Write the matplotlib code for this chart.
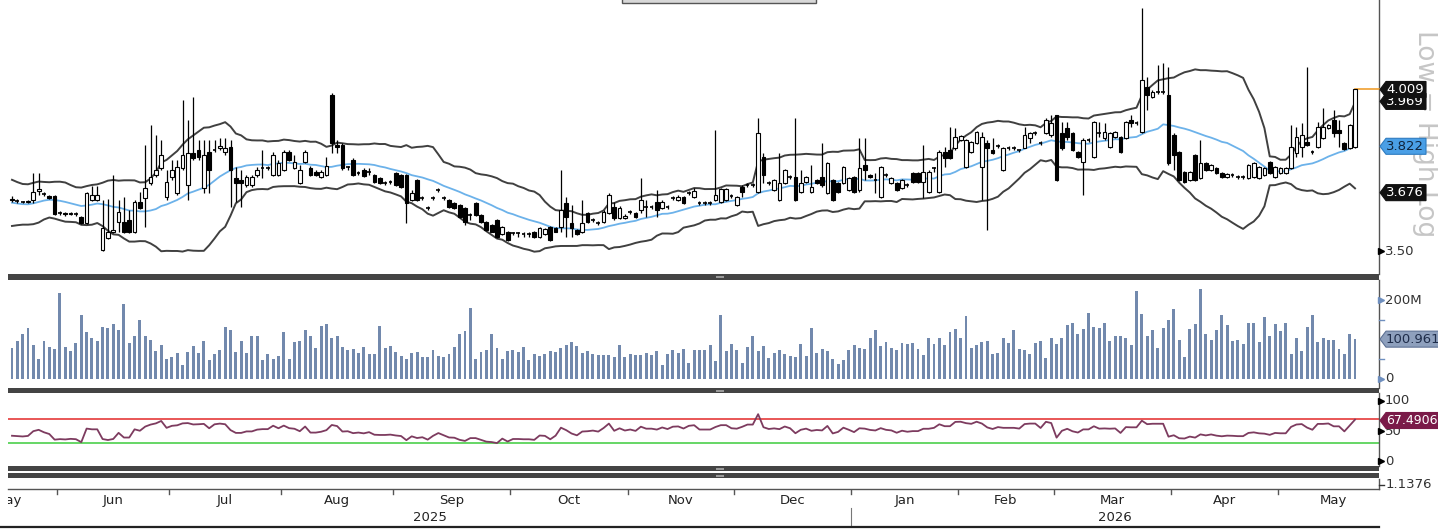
import numpy as np
import pandas as pd
import matplotlib
matplotlib.use("Agg")
import matplotlib.pyplot as plt
from matplotlib.patches import Polygon, Rectangle
from matplotlib.lines import Line2D
import matplotlib.transforms as mtransforms

# ---------------- data ----------------
open_ = [
    3.657,3.651,3.648,3.648,3.654,3.682,3.672,3.666,3.666,3.614,
    3.614,3.611,3.611,3.602,3.584,3.654,3.654,3.504,3.540,3.555,
    3.587,3.587,3.593,3.555,3.648,3.660,3.706,3.731,3.753,3.663,
    3.725,3.675,3.753,3.700,3.801,3.811,3.691,3.805,3.811,3.817,
    3.805,3.821,3.722,3.716,3.700,3.700,3.731,3.753,3.753,3.731,
    3.731,3.747,3.805,3.753,
    3.706,3.773,3.753,3.741,3.725,3.731,3.991,3.827,3.827,3.757,
    3.779,3.738,3.747,3.741,3.731,3.722,3.706,3.709,3.738,3.731,
    3.731,3.654,3.716,3.660,3.630,3.660,3.685,3.660,3.654,3.645,
    3.639,3.630,3.608,3.645,3.608,3.587,3.578,3.593,3.549,3.557,
    3.552,3.552,3.549,3.549,3.557,3.543,3.549,3.572,3.569,3.572,
    3.645,3.584,3.563,3.555,3.614,3.593,3.584,
    3.587,3.614,3.633,3.599,3.599,3.617,3.614,3.624,3.633,3.633,
    3.648,3.630,3.633,3.660,3.654,3.663,3.675,3.663,3.645,3.645,
    3.645,3.654,3.648,3.654,3.666,3.639,3.694,3.700,3.700,3.679,
    3.789,3.706,3.685,3.654,3.706,3.725,3.725,3.679,3.709,3.679,
    3.716,3.725,3.675,3.716,3.706,3.706,3.685,3.725,3.685,3.763,
    3.731,3.716,3.663,3.731,3.706,3.706,3.691,
    3.700,3.738,3.738,3.709,3.679,3.753,3.679,3.805,3.811,3.817,
    3.843,3.757,3.805,3.833,3.757,3.833,3.811,3.824,3.747,3.817,
    3.817,3.811,3.817,3.849,3.865,3.833,3.865,3.859,3.924,3.865,
    3.881,3.865,3.805,3.773,3.843,3.789,3.865,3.849,3.821,3.853,
    3.853,3.849,3.908,3.898,3.869,4.017,3.984,4.001,4.001,3.991,
    3.859,3.805,3.741,3.716,3.795,3.722,3.770,3.747,3.753,3.738,
    3.725,3.731,3.725,3.725,3.722,3.725,3.722,3.731,3.773,3.725,
    3.738,3.738,3.753,3.801,3.821,3.837,3.805,3.821,3.849,3.881,
    3.908,3.875,3.833,3.817,3.821]

high = [
    3.666,3.657,3.651,3.654,3.738,3.738,3.679,3.669,3.669,3.621,
    3.617,3.617,3.617,3.605,3.679,3.697,3.697,3.654,3.657,3.731,
    3.654,3.663,3.624,3.654,3.679,3.827,3.891,3.859,3.843,3.747,
    3.779,3.779,3.974,3.908,3.984,3.843,3.843,3.843,3.843,3.849,
    3.849,3.843,3.757,3.747,3.731,3.731,3.757,3.811,3.760,3.805,
    3.779,3.811,3.811,3.795,
    3.763,3.811,3.760,3.747,3.747,3.789,3.998,3.843,3.833,3.760,
    3.785,3.744,3.753,3.753,3.734,3.725,3.713,3.716,3.741,3.734,
    3.734,3.685,3.719,3.666,3.636,3.666,3.691,3.666,3.657,3.648,
    3.642,3.633,3.614,3.648,3.611,3.590,3.581,3.596,3.575,3.560,
    3.557,3.557,3.555,3.555,3.560,3.572,3.569,3.575,3.572,3.747,
    3.663,3.639,3.566,3.654,3.617,3.599,3.590,
    3.624,3.675,3.648,3.636,3.611,3.624,3.617,3.722,3.654,3.639,
    3.685,3.654,3.639,3.666,3.669,3.666,3.682,3.691,3.651,3.651,
    3.651,3.875,3.691,3.691,3.672,3.666,3.700,3.706,3.706,3.914,
    3.801,3.713,3.719,3.801,3.750,3.731,3.914,3.747,3.728,3.763,
    3.719,3.833,3.773,3.719,3.709,3.760,3.725,3.728,3.849,3.849,
    3.734,3.738,3.760,3.738,3.725,3.709,3.719,
    3.706,3.741,3.741,3.827,3.747,3.757,3.811,3.821,3.885,3.881,
    3.859,3.846,3.840,3.872,3.869,3.843,3.849,3.830,3.821,3.824,
    3.824,3.811,3.885,3.869,3.872,3.840,3.914,3.924,3.924,3.901,
    3.901,3.869,3.808,3.849,3.849,3.904,3.901,3.898,3.869,3.872,
    3.856,3.904,3.924,3.904,4.293,4.052,4.008,4.093,4.100,4.086,
    3.865,3.808,3.744,3.744,3.798,3.843,3.773,3.766,3.757,3.741,
    3.738,3.738,3.731,3.731,3.766,3.773,3.760,3.757,3.776,3.760,
    3.757,3.757,3.891,3.885,3.898,4.086,3.811,3.901,3.947,3.894,
    3.941,3.908,3.837,3.894,4.009]

low = [
    3.648,3.645,3.645,3.645,3.645,3.669,3.666,3.657,3.608,3.608,
    3.605,3.608,3.605,3.581,3.581,3.651,3.651,3.501,3.537,3.552,
    3.557,3.552,3.552,3.552,3.627,3.572,3.700,3.725,3.747,3.654,
    3.716,3.669,3.747,3.654,3.779,3.779,3.675,3.675,3.805,3.811,
    3.795,3.633,3.648,3.633,3.694,3.694,3.725,3.722,3.747,3.728,
    3.728,3.744,3.776,3.750,
    3.703,3.770,3.728,3.728,3.722,3.728,3.801,3.801,3.747,3.747,
    3.728,3.731,3.725,3.731,3.706,3.703,3.700,3.703,3.697,3.691,
    3.584,3.651,3.651,3.654,3.624,3.654,3.679,3.654,3.630,3.627,
    3.599,3.578,3.593,3.605,3.584,3.560,3.555,3.540,3.546,3.531,
    3.546,3.543,3.543,3.543,3.540,3.540,3.546,3.531,3.555,3.555,
    3.543,3.543,3.546,3.552,3.584,3.587,3.578,
    3.584,3.611,3.593,3.596,3.596,3.611,3.599,3.614,3.602,3.627,
    3.602,3.627,3.627,3.654,3.651,3.642,3.669,3.660,3.639,3.639,
    3.639,3.651,3.645,3.651,3.660,3.636,3.663,3.694,3.694,3.675,
    3.706,3.700,3.682,3.651,3.703,3.719,3.651,3.675,3.706,3.675,
    3.703,3.694,3.672,3.651,3.675,3.703,3.682,3.675,3.679,3.716,
    3.722,3.675,3.660,3.725,3.703,3.682,3.688,
    3.694,3.706,3.706,3.660,3.675,3.741,3.675,3.757,3.782,3.811,
    3.840,3.753,3.801,3.830,3.654,3.563,3.798,3.817,3.744,3.811,
    3.811,3.805,3.817,3.833,3.859,3.827,3.862,3.853,3.713,3.811,
    3.843,3.808,3.785,3.669,3.837,3.785,3.853,3.843,3.817,3.849,
    3.801,3.846,3.885,3.891,3.865,3.941,3.981,3.994,3.994,3.763,
    3.747,3.713,3.706,3.713,3.713,3.719,3.744,3.744,3.734,3.722,
    3.722,3.725,3.719,3.719,3.719,3.722,3.719,3.728,3.734,3.722,
    3.734,3.734,3.750,3.789,3.789,3.824,3.798,3.817,3.846,3.878,
    3.853,3.821,3.811,3.814,3.817]

close = [
    3.654,3.651,3.648,3.651,3.679,3.688,3.672,3.660,3.611,3.614,
    3.611,3.614,3.611,3.584,3.675,3.669,3.669,3.569,3.555,3.563,
    3.617,3.555,3.555,3.648,3.630,3.691,3.725,3.747,3.795,3.709,
    3.747,3.757,3.795,3.801,3.785,3.789,3.795,3.747,3.811,3.824,
    3.817,3.747,3.706,3.706,3.725,3.725,3.747,3.753,3.753,3.795,
    3.770,3.805,3.779,3.773,
    3.747,3.805,3.731,3.731,3.741,3.760,3.833,3.821,3.753,3.757,
    3.731,3.738,3.728,3.741,3.709,3.706,3.706,3.709,3.700,3.694,
    3.645,3.675,3.654,3.660,3.630,3.660,3.685,3.660,3.633,3.630,
    3.602,3.587,3.608,3.608,3.587,3.563,3.557,3.543,3.572,3.534,
    3.552,3.552,3.549,3.549,3.543,3.569,3.566,3.534,3.557,3.624,
    3.602,3.569,3.549,3.584,3.587,3.593,3.584,
    3.617,3.669,3.599,3.630,3.605,3.617,3.602,3.654,3.633,3.633,
    3.624,3.648,3.633,3.660,3.663,3.645,3.675,3.682,3.645,3.645,
    3.645,3.669,3.688,3.688,3.666,3.663,3.679,3.700,3.700,3.865,
    3.731,3.706,3.716,3.706,3.747,3.725,3.654,3.706,3.725,3.694,
    3.706,3.700,3.770,3.654,3.679,3.757,3.722,3.679,3.753,3.747,
    3.725,3.716,3.757,3.731,3.722,3.685,3.716,
    3.700,3.709,3.709,3.741,3.741,3.753,3.805,3.785,3.785,3.853,
    3.856,3.843,3.837,3.869,3.853,3.817,3.801,3.824,3.817,3.817,
    3.817,3.811,3.859,3.865,3.865,3.833,3.908,3.898,3.716,3.817,
    3.853,3.811,3.789,3.843,3.843,3.901,3.865,3.869,3.865,3.869,
    3.805,3.901,3.898,3.898,4.041,3.991,4.001,4.001,4.001,3.770,
    3.795,3.716,3.709,3.741,3.716,3.770,3.747,3.763,3.738,3.725,
    3.734,3.731,3.725,3.725,3.763,3.770,3.757,3.753,3.738,3.757,
    3.753,3.753,3.821,3.853,3.859,3.827,3.805,3.885,3.885,3.891,
    3.865,3.865,3.814,3.891,4.009]

# volume in millions
volume_m = [
    79,97,113,130,86,51,97,81,76,218,81,71,91,162,120,105,97,132,129,140,
    124,189,90,108,150,108,99,71,86,51,56,65,35,68,84,65,97,49,62,73,
    132,124,68,97,65,110,110,49,62,51,59,119,51,94,97,124,108,79,135,140,
    105,108,81,73,76,65,81,62,62,135,79,84,68,57,51,65,68,55,55,73,
    57,55,62,81,113,121,180,51,68,
    73,113,79,51,70,73,68,81,49,62,57,62,70,68,79,86,94,84,65,71,
    62,60,60,60,56,86,55,62,60,60,65,60,70,35,62,73,65,76,41,73,
    73,73,86,46,162,70,89,73,41,81,108,70,84,54,65,73,62,57,55,89,
    59,129,65,76,70,51,38,49,73,86,79,76,105,124,84,94,79,73,91,89,
    91,76,60,
    103,89,103,86,119,127,103,159,79,86,94,97,62,65,103,91,124,76,73,62,
    91,97,54,105,89,105,137,143,113,127,168,132,129,143,97,108,108,103,86,223,
    165,110,124,79,129,150,178,100,56,127,140,228,113,100,124,162,138,97,100,89,
    143,143,94,156,108,140,121,143,62,105,71,132,162,94,103,100,100,76,62,115,
    100.961]

# closes before the visible window (estimated from the band width at the left edge)
prior_close = [3.70,3.69,3.66,3.62,3.60,3.59,3.61,3.63,3.66,3.68,
               3.70,3.69,3.67,3.64,3.62,3.60,3.61,3.63,3.65]

holidays = ['2025-07-01','2025-07-04','2025-10-01','2025-12-25','2026-01-01',
            '2026-01-19','2026-02-16','2026-02-17','2026-04-03','2026-04-06']
start_date = '2025-05-20'

# right-axis value tags as printed in the reference
tag_close, tag_upper, tag_ma, tag_lower = 4.009, 3.969, 3.822, 3.676
tag_volume = 100.961
tag_rsi = 67.4906
small_panel_value = "1.1376"

# ---------------- indicators ----------------
N = len(close)
dates = pd.date_range(start_date, periods=N,
                      freq=pd.offsets.CustomBusinessDay(holidays=holidays))
allc = pd.Series(prior_close + close, dtype=float)
k = len(prior_close)
ma = allc.rolling(20).mean().values[k:]
sd = allc.rolling(20).std(ddof=1).values[k:]
upper = ma + 2 * sd
lower = ma - 2 * sd
delta = allc.diff()
gain = delta.clip(lower=0)
loss = (-delta).clip(lower=0)
ag = gain.ewm(alpha=1 / 14, adjust=False).mean()
al = loss.ewm(alpha=1 / 14, adjust=False).mean()
rsi = (100 - 100 / (1 + ag / al)).values[k:]

# ---------------- figure ----------------
W, H = 1438, 530
fig = plt.figure(figsize=(W / 100, H / 100), dpi=100)
fig.patch.set_facecolor("white")


def add_ax(x0, y0, x1, y1):
    return fig.add_axes([x0 / W, 1 - y1 / H, (x1 - x0) / W, (y1 - y0) / H])


def P(x, y):
    return (x / W, 1 - y / H)


AXL, AXR = 8, 1379
x = np.arange(N)
X0, X1 = -0.75, 256.5

axp = add_ax(AXL, 0, AXR, 274)
axv = add_ax(AXL, 280, AXR, 388)
axr = add_ax(AXL, 393, AXR, 466)
axs = add_ax(AXL, 479, AXR, 489)
axl = add_ax(AXL, 489, AXR, 528)

for a in (axp, axv, axr, axs, axl):
    a.set_xlim(X0, X1)
    a.set_xticks([])
    a.set_yticks([])
    a.set_facecolor("none")
    for s in a.spines.values():
        s.set_visible(False)
for a in (axp, axv, axr, axs):
    a.spines["right"].set_visible(True)
    a.spines["right"].set_color("#555555")
    a.spines["right"].set_linewidth(1.0)

# ---- price panel ----
axp.set_yscale("log")
axp.set_ylim(3.4331, 4.322)
axp.minorticks_off()
axp.set_yticks([])
axp.plot(x, upper, color="#404040", lw=1.4, zorder=2)
axp.plot(x, lower, color="#404040", lw=1.4, zorder=2)
axp.plot(x, ma, color="#6cb2ea", lw=1.3, zorder=2)

o = np.array(open_); c = np.array(close); hi = np.array(high); lo = np.array(low)
axp.vlines(x, lo, hi, color="black", lw=0.9, zorder=3)
up = c > o
dn = c < o
eq = c == o
bw = 0.7
axp.bar(x[up], (c - o)[up], bottom=o[up], width=bw, color="white",
        edgecolor="black", linewidth=0.8, zorder=4)
axp.bar(x[dn], (o - c)[dn], bottom=c[dn], width=bw, color="black",
        edgecolor="black", linewidth=0.8, zorder=4)
axp.hlines(c[eq], x[eq] - bw / 2, x[eq] + bw / 2, color="black", lw=1.2, zorder=4)
# last price line
axp.plot([x[-1], X1], [close[-1], close[-1]], color="#f0a030", lw=1.2, zorder=3,
         clip_on=False)

# ---- volume panel ----
axv.set_ylim(-23, 251)
axv.bar(x, volume_m, width=0.55, color="#7289ad", zorder=2)

# ---- RSI panel ----
axr.set_ylim(-8.3, 113.3)
axr.axhline(70, color="#e53a3a", lw=1.2, zorder=1)
axr.axhline(30, color="#4ccf4c", lw=1.2, zorder=1)
axr.plot(x, rsi, color="#7d3b5f", lw=1.3, zorder=2)

# ---- separators ----
def bar(y0, y1, color="#444444"):
    fig.add_artist(Rectangle(P(AXL, y1), (AXR - AXL) / W, (y1 - y0) / H,
                             transform=fig.transFigure, fc=color, ec="none", zorder=5))

bar(274, 280)
bar(388, 393)
bar(466, 471)
bar(473, 478)
for yy in (277, 390.5, 468.5, 475.5):
    fig.add_artist(Rectangle(P(716, yy + 1), 8 / W, 2 / H, transform=fig.transFigure,
                             fc="#9a9a9a", ec="none", zorder=6))

# top legend box (clipped)
fig.add_artist(Rectangle(P(622, 3), 194 / W, 8 / H, transform=fig.transFigure,
                         fc="#d8d8d8", ec="#555555", lw=1.0, zorder=6))

# ---- date axis ----
tb = mtransforms.blended_transform_factory(axl.transData, axl.transAxes)
axl.plot([X0, X1], [1, 1], transform=tb, color="#555555", lw=1.0, clip_on=False)
months = pd.Series(np.arange(N), index=dates)
firsts = months.groupby([dates.year, dates.month]).min()
keys = list(firsts.index)
starts = [firsts[kk] - 0.5 for kk in keys]
for i, kk in enumerate(keys):
    s0 = starts[i]
    if i + 1 < len(keys):
        s1 = starts[i + 1]
    else:
        ym = pd.Timestamp(year=kk[0], month=kk[1], day=1)
        nb = len(pd.bdate_range(ym, ym + pd.offsets.MonthEnd(0)))
        s1 = s0 + nb
    if i == 0:
        center = X0
    else:
        center = (s0 + s1) / 2
        axl.plot([s0, s0], [1, 0.88], transform=tb, color="#555555", lw=1.0)
    axl.text(center, 0.70, pd.Timestamp(year=kk[0], month=kk[1], day=1).strftime("%b"),
             transform=tb, ha="center", va="center", fontsize=9.5, color="#222222",
             clip_on=True)
years = sorted(set(dates.year))
for yv in years:
    idx = np.where(dates.year == yv)[0]
    a0 = max(idx[0] - 0.5, X0)
    a1 = X1 if yv == years[-1] else idx[-1] + 0.5
    axl.text((a0 + a1) / 2, 0.26, str(yv), transform=tb, ha="center", va="center",
             fontsize=9.5, color="#222222")
    if idx[0] > 0:
        axl.plot([idx[0] - 0.5] * 2, [0.52, 0.0], transform=tb, color="#777777", lw=0.8)
fig.add_artist(Line2D([0, AXR / W], [1 - 526.5 / H] * 2, transform=fig.transFigure,
                      color="#222222", lw=1.6))

# ---- right-hand labels ----
def ypx(ax, v):
    return H - ax.transData.transform((0, v))[1]


def tag(yc, text, fc, tc, x1=1426, h=16, fs=9.5, z=10, ec=None):
    x0 = 1380
    pts = [P(x0, yc), P(x0 + 6, yc - h / 2), P(x1, yc - h / 2), P(x1, yc + h / 2),
           P(x0 + 6, yc + h / 2)]
    fig.add_artist(Polygon(pts, closed=True, transform=fig.transFigure, fc=fc,
                           ec=ec or fc, lw=0.8, zorder=z))
    fig.text(*P(x0 + 6, yc), text, color=tc, fontsize=fs, ha="left", va="center",
             zorder=z + 0.5)


def tick(yc, text, mcolor="black", tcolor="#333333", fs=9.5):
    fig.add_artist(Line2D([P(1381, 0)[0]], [P(0, yc)[1]], marker=">", ms=4,
                          color=mcolor, transform=fig.transFigure, zorder=8))
    fig.text(*P(1385, yc), text, color=tcolor, fontsize=fs, ha="left", va="center",
             zorder=8)


fig.text(*P(1425, 134), "Low = High Log", rotation=-90, color="#c6c6c6",
         fontsize=19, ha="center", va="center", zorder=1)

tick(ypx(axp, 3.50), "3.50")
tag(ypx(axp, tag_upper), f"{tag_upper:.3f}", "#111111", "white", z=10)
tag(ypx(axp, tag_close), f"{tag_close:.3f}", "#111111", "white", z=11)
tag(ypx(axp, tag_ma), f"{tag_ma:.3f}", "#4a9fe6", "#10243c", z=10, ec="#2f7cc0")
tag(ypx(axp, tag_lower), f"{tag_lower:.3f}", "#111111", "white", z=10)

tick(ypx(axv, 200), "200M", mcolor="#6f8fbf")
tick(ypx(axv, 0), "0", mcolor="#6f8fbf")
for mv in (50, 150):
    yy = ypx(axv, mv)
    fig.add_artist(Line2D([P(1379, 0)[0], P(1384, 0)[0]], [P(0, yy)[1]] * 2,
                          transform=fig.transFigure, color="#6f8fbf", lw=1))
tag(ypx(axv, tag_volume), f"{tag_volume:.3f}M", "#8ea0bd", "#1f2d4a", x1=1445,
    ec="#5d7194")

tick(ypx(axr, 100), "100")
tick(ypx(axr, 50), "50")
tick(ypx(axr, 0), "0")
tag(ypx(axr, tag_rsi), f"{tag_rsi:.4f}", "#7a1a48", "white", x1=1445, fs=9)

fig.text(*P(1386, 485), small_panel_value, color="#333333", fontsize=9.5,
         ha="left", va="center", zorder=8)
fig.add_artist(Line2D([P(1379, 0)[0], P(1384, 0)[0]], [P(0, 485)[1]] * 2,
                      transform=fig.transFigure, color="#333333", lw=1))

fig.savefig("out.png", dpi=100, facecolor="white")
